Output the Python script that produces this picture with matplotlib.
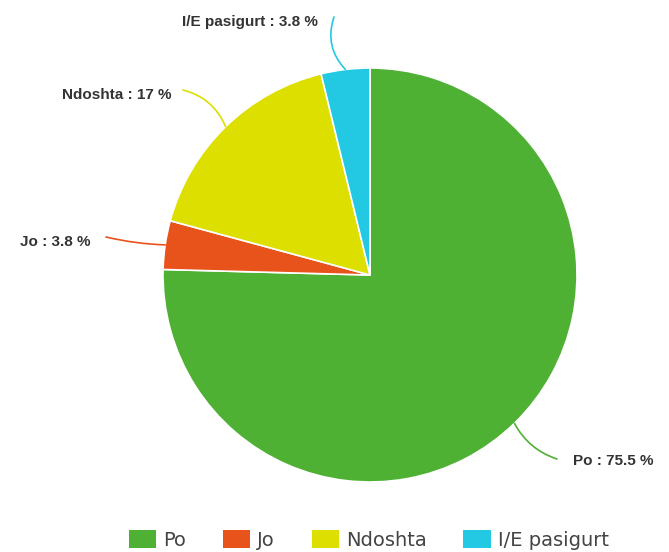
import numpy as np
import matplotlib
matplotlib.use('Agg')
import matplotlib.pyplot as plt
from matplotlib.patches import Patch

# Data
labels = ['Po', 'Jo', 'Ndoshta', 'I/E pasigurt']
values = [75.5, 3.8, 17, 3.8]
label_texts = ['75.5', '3.8', '17', '3.8']
colors = ['#4fb134', '#e8531c', '#dcdf00', '#23c9e3']

W, H = 669, 552
fig = plt.figure(figsize=(W / 100, H / 100), dpi=100, facecolor='white')
ax = fig.add_axes([0, 0, 1, 1])

cx, cy, r = 370, H - 275, 207
wedges, _ = ax.pie(values, colors=colors, startangle=90, counterclock=False,
                   center=(cx, cy), radius=r, frame=True,
                   wedgeprops=dict(edgecolor='white', linewidth=1.2))
ax.set_xlim(0, W)
ax.set_ylim(0, H)
ax.set_aspect('equal')
ax.axis('off')

# label placement (pixel coords from top): text anchor, line end, alignment, curvature
label_layout = [
    ((573, 461), (557, 459), 'left', -0.2),
    ((90, 242), (106, 237), 'right', 0.05),
    ((172, 95), (183, 90), 'right', -0.25),
    ((318, 22), (334, 17), 'right', 0.3),
]

for w, lab, txt, col, lay in zip(wedges, labels, label_texts, colors, label_layout):
    (tx, ty), (lx, ly), ha, rad = lay
    mid = np.deg2rad((w.theta1 + w.theta2) / 2)
    ex, ey = cx + r * np.cos(mid), cy + r * np.sin(mid)
    ax.annotate('', xy=(ex, ey), xytext=(lx, H - ly),
                arrowprops=dict(arrowstyle='-', color=col, lw=1.2,
                                connectionstyle=f'arc3,rad={rad}',
                                shrinkA=0, shrinkB=0))
    ax.text(tx, H - ty, f'{lab} : {txt} %', ha=ha, va='center',
            fontsize=11, fontweight='bold', color='#333333',
            family='Liberation Sans')

handles = [Patch(facecolor=c, edgecolor='none') for c in colors]
fig.legend(handles, labels, loc='center', bbox_to_anchor=(0.551, 1 - 540 / H),
           ncol=4, frameon=False, fontsize=14, handlelength=1.4, handleheight=1.03,
           handletextpad=0.36, columnspacing=1.9, labelcolor='#444444')

plt.savefig('out.png', dpi=100, facecolor='white')
